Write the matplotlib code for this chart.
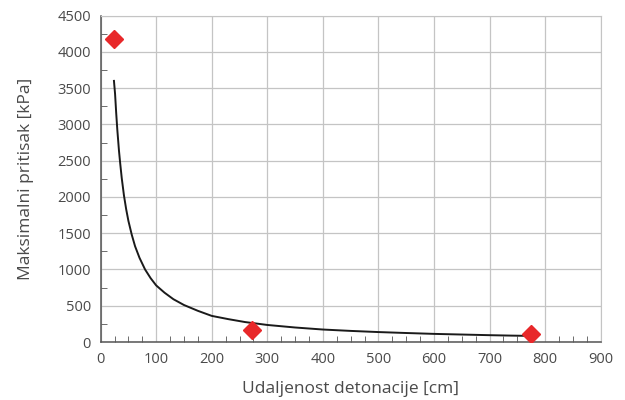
import matplotlib
matplotlib.use("Agg")
import matplotlib.pyplot as plt
from matplotlib.ticker import MultipleLocator

# fitted curve
curve_x = [24, 26, 28, 30, 33, 35, 38, 42, 46, 50, 56, 62, 70, 80, 90, 100,
           115, 131, 150, 175, 200, 230, 260, 300, 350, 400, 450, 500,
           550, 600, 650, 700, 740, 775]
curve_y = [3600, 3420, 3160, 2930, 2640, 2480, 2260, 2020, 1830, 1670, 1480,
           1320, 1160, 1000, 880, 780, 680, 590, 510, 430, 360, 315, 275, 235,
           200, 172, 153, 137, 124, 112, 103, 94, 88, 84]

# measured points
meas_x = [24, 272, 775]
meas_y = [4180, 160, 115]

txt = "#4a4a4a"
plt.rcParams["font.family"] = ["Open Sans", "DejaVu Sans"]

fig = plt.figure(figsize=(6.25, 4), dpi=100)
ax = fig.add_axes([0.161, 0.145, 0.800, 0.816])

ax.plot(curve_x, curve_y, color="#1a1a1a", lw=1.4, zorder=3)
ax.plot(meas_x, meas_y, "D", color="#e8282a", markersize=9, zorder=4)

ax.set_xlim(0, 900)
ax.set_ylim(0, 4500)
ax.xaxis.set_major_locator(MultipleLocator(100))
ax.xaxis.set_minor_locator(MultipleLocator(25))
ax.yaxis.set_major_locator(MultipleLocator(500))
ax.yaxis.set_minor_locator(MultipleLocator(250))
ax.grid(True, which="major", color="#c4c4c4", lw=0.9)
ax.set_axisbelow(True)

for s in ["top", "right"]:
    ax.spines[s].set_color("#c4c4c4")
for s in ["left", "bottom"]:
    ax.spines[s].set_color("#555555")
    ax.spines[s].set_linewidth(1.1)

ax.tick_params(which="major", direction="in", length=0, labelsize=10.5,
               labelcolor=txt, pad=7)
ax.tick_params(which="minor", direction="in", length=4, color="#555555")

ax.set_xlabel("Udaljenost detonacije [cm]", fontsize=12.5, color=txt, labelpad=10)
ax.set_ylabel("Maksimalni pritisak [kPa]", fontsize=12.5, color=txt, labelpad=17)

fig.savefig("out.png", dpi=100)
